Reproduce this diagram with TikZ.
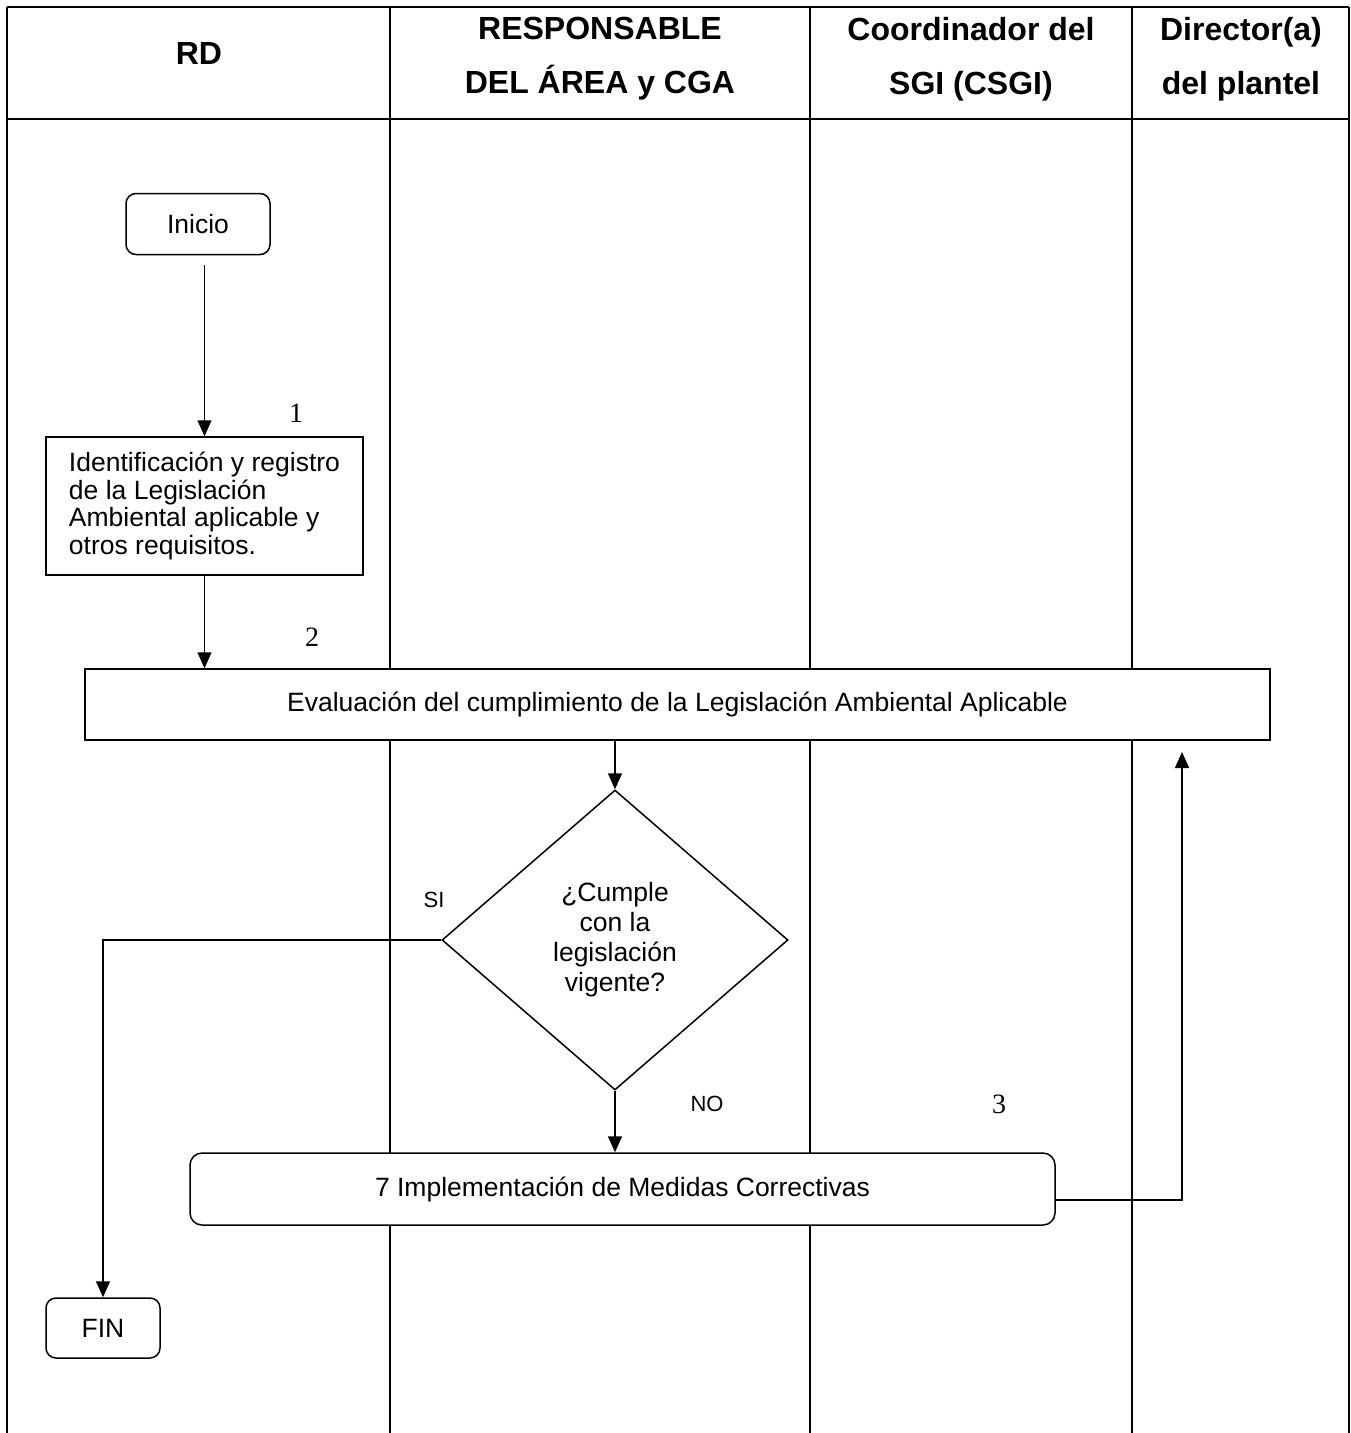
\documentclass[tikz,border=0pt]{standalone}
\usepackage{fontspec}
\setmainfont{Liberation Sans}
\newfontfamily\numfont{Liberation Serif}
\usetikzlibrary{arrows.meta, calc, positioning, shapes.geometric}

\begin{document}
\begin{tikzpicture}[% styles used in image code
x = 1pt, y = -1pt,
          > = {Triangle[length=16pt,width=14pt]}, % defined in "arrows.meta"
  lane/.style = {line width=2pt},
  rule/.style = {line width=2.6pt},
   hdr/.style = {font=\fontsize{32}{54}\selectfont\bfseries, align=center},
  proc/.style = {draw, line width=1.5pt, fill=white,
                 font=\fontsize{26.5}{27.7}\selectfont},
  term/.style = {proc, rounded corners=10pt},
 query/.style = {proc, diamond, inner sep=0pt, align=center,
                 font=\fontsize{26.5}{30}\selectfont},
  flow/.style = {->, line width=1.5pt},
   lbl/.style = {font=\fontsize{22}{24}\selectfont},
   num/.style = {font=\numfont\fontsize{28}{30}\selectfont}
                    ]
	\useasboundingbox (0,0) rectangle (1351,1433);
	% swimlane table
	\draw[rule] (7,7) -- (1349,7);
	\draw[rule] (7,119) -- (1349,119);
	\foreach \x in {7,390,810,1132,1349}
	   \draw[lane] (\x,7) -- (\x,1433);

	\node[hdr] (rd)   at (199,53) {RD};
	\node[hdr] (resp) at (600,59) {RESPONSABLE\\DEL ÁREA y CGA};
	\node[hdr] (csgi) at (971,59) {Coordinador del\\SGI (CSGI)};
	\node[hdr] (dir)  at (1241,59) {Director(a)\\del plantel};

	% flow nodes
	\node[term, minimum width=144pt, minimum height=61pt] (inicio) at (198,224) {Inicio};
	\node[proc, align=left, minimum width=317pt, minimum height=138pt] (ident) at (204.5,506)
	     {Identificación y registro\\de la Legislación\\Ambiental aplicable y\\otros requisitos.};
	\node[proc, minimum width=1185pt, minimum height=71pt] (eval) at (677.5,704.5)
	     {Evaluación del cumplimiento de la Legislación Ambiental Aplicable};
	\node[query, minimum width=346pt, minimum height=300pt] (cumple) at (615,940)
	     {¿Cumple\\con la\\legislación\\vigente?};
	\node[term, minimum width=865pt, minimum height=72pt, rounded corners=12pt] (impl) at (622.5,1189)
	     {7 Implementación de Medidas Correctivas};
	\node[term, minimum width=114pt, minimum height=60pt] (fin) at (103,1328) {FIN};

	% labels
	\node[num] (n1) at (296,413) {1};
	\node[num] (n2) at (312,637) {2};
	\node[num] (n3) at (999,1104) {3};
	\node[lbl] (si) at (434,900) {SI};
	\node[lbl] (no) at (707,1104) {NO};

	% connectors
	\coordinate (back) at (1182,752);
	\draw[flow, shorten <=10pt] (inicio.south -| ident.north) -- (ident.north);
	\draw[flow] (ident.south) -- (ident.south |- eval.north);
	\draw[flow] (eval.south -| cumple.north) -- (cumple.north);
	\draw[flow] (cumple.west) -| (fin.north);
	\draw[flow] (cumple.south) -- (cumple.south |- impl.north);
	\draw[flow] ([yshift=-11pt]impl.east) -| (back);
\end{tikzpicture}
\end{document}
